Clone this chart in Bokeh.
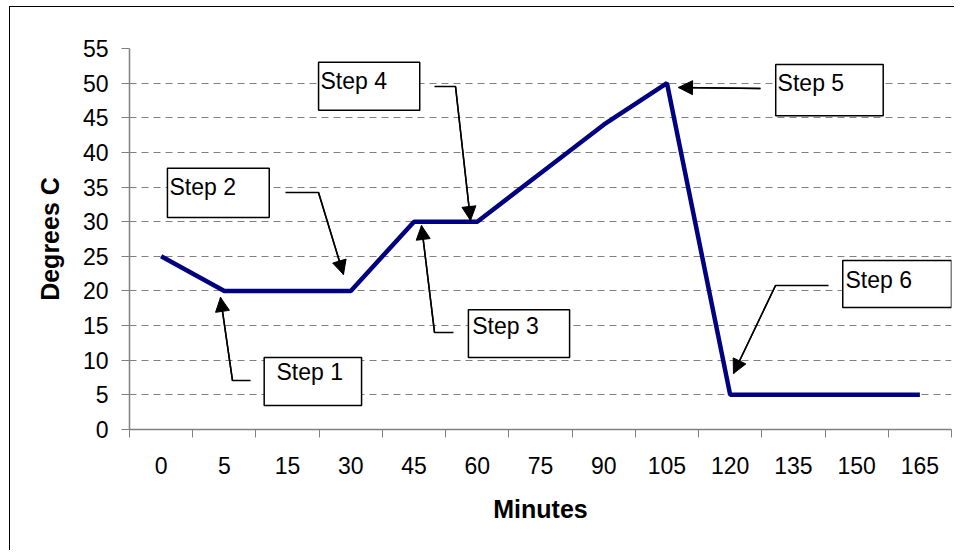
from bokeh.plotting import figure
from bokeh.models import (Range1d, FixedTicker, ColumnDataSource, Arrow, NormalHead,
                          InlineStyleSheet)
from bokeh.core.properties import value
from bokeh.embed import file_html
from bokeh.resources import INLINE

# ---- data ----
minutes = ["0", "5", "15", "30", "45", "60", "75", "90", "105", "120", "135", "150", "165"]
degrees = [25, 20, 20, 20, 30, 30, 37, 44, 50, 5, 5, 5, 5]
y_ticks = [0, 5, 10, 15, 20, 25, 30, 35, 40, 45, 50, 55]

# ---- callouts (in axis units: category slot, degrees C) ----
step_labels = ["Step 1", "Step 2", "Step 3", "Step 4", "Step 5", "Step 6"]
box_left = [2.13, 0.60, 5.36, 2.99, 10.22, 11.28]
box_right = [3.67, 2.21, 6.96, 4.59, 11.92, 13.0]
box_top = [10.39, 37.7, 17.3, 53.0, 52.7, 24.4]
box_bottom = [3.46, 30.6, 10.4, 46.1, 45.3, 17.6]
text_x = [2.325, 0.633, 5.42, 3.02, 10.25, 11.324]
text_y = [8.37, 34.94, 15.01, 50.24, 50.09, 21.65]
leader_x = [[1.914, 1.629], [2.467, 2.989], [5.124, 4.824], [4.824, 5.156], [9.979], [11.055, 10.217]]
leader_y = [[7.07, 7.07], [34.21, 34.21], [14.0, 14.0], [49.52, 49.52], [49.23], [20.79, 20.79]]
tip_x = [1.439, 3.384, 4.618, 5.393, 8.683, 9.552]
tip_y = [19.06, 22.38, 29.45, 30.17, 49.37, 8.08]

n = len(minutes)
xs = [i + 0.5 for i in range(n)]

# outer chart border (top and left edges; the rest lies outside the window)
border_css = InlineStyleSheet(css="""
:host { position: relative; }
:host::after {
  content: "";
  position: absolute;
  left: 9px; top: 6px; right: 0; bottom: 0;
  border-left: 1.5px solid black;
  border-top: 1.5px solid black;
  pointer-events: none;
}
""")

p = figure(width=954, height=550, output_backend="svg", toolbar_location=None,
           x_range=Range1d(0, n), y_range=Range1d(0, 55),
           min_border_left=129, min_border_right=3, min_border_top=48, min_border_bottom=121,
           stylesheets=[border_css])
p.outline_line_color = None
p.background_fill_color = "white"
p.border_fill_color = "white"

FONT = "Liberation Sans"

# x axis: labels at slot centres, tick marks at slot boundaries
p.xaxis.ticker = FixedTicker(ticks=xs, minor_ticks=list(range(n + 1)))
p.xaxis.major_label_overrides = {x: m for x, m in zip(xs, minutes)}
p.xaxis.major_tick_out = 0
p.xaxis.major_tick_in = 0
p.xaxis.minor_tick_out = 8
p.xaxis.minor_tick_in = 0
p.xaxis.minor_tick_line_color = "#808080"
p.xaxis.axis_line_color = "#808080"
p.xaxis.axis_line_width = 1.5
p.xaxis.major_label_standoff = 19
p.xaxis.major_label_text_font = FONT
p.xaxis.major_label_text_font_size = "23px"
p.xaxis.major_label_text_color = "black"
p.xaxis.axis_label = "Minutes"
p.xaxis.axis_label_text_font = FONT
p.xaxis.axis_label_text_font_style = "bold"
p.xaxis.axis_label_text_font_size = "25px"
p.xaxis.axis_label_text_color = "black"
p.xaxis.axis_label_standoff = 18

p.yaxis.ticker = FixedTicker(ticks=y_ticks)
p.yaxis.major_tick_out = 8
p.yaxis.major_tick_in = 0
p.yaxis.minor_tick_line_color = None
p.yaxis.major_tick_line_color = "#808080"
p.yaxis.axis_line_color = "#808080"
p.yaxis.axis_line_width = 1.5
p.yaxis.major_label_standoff = 13
p.yaxis.major_label_text_font = FONT
p.yaxis.major_label_text_font_size = "23px"
p.yaxis.major_label_text_color = "black"
p.yaxis.axis_label = "Degrees C"
p.yaxis.axis_label_text_font = FONT
p.yaxis.axis_label_text_font_style = "bold"
p.yaxis.axis_label_text_font_size = "25px"
p.yaxis.axis_label_text_color = "black"
p.yaxis.axis_label_standoff = 16

p.xgrid.visible = False
p.ygrid.grid_line_color = "#808080"
p.ygrid.grid_line_dash = "7 5"
p.ygrid.grid_line_width = 1

# main series
p.line(xs, degrees, line_color="#000080", line_width=4.5)

# callout boxes and texts
p.quad(left=box_left, right=box_right, top=box_top, bottom=box_bottom,
       fill_color="white", line_color="black", line_width=1.5)
p.text(x=text_x, y=text_y, text=step_labels, text_font=value(FONT),
       text_font_size="23px", text_baseline="middle", text_align="left", text_color="black")

# leader lines + arrows
ml_x = [lx + [tx] for lx, tx in zip(leader_x, tip_x)]
ml_y = [ly + [ty] for ly, ty in zip(leader_y, tip_y)]
p.multi_line(ml_x, ml_y, line_color="black", line_width=1.5)
arrow_src = ColumnDataSource(dict(
    x0=[lx[-1] for lx in leader_x], y0=[ly[-1] for ly in leader_y],
    x1=tip_x, y1=tip_y))
p.add_layout(Arrow(end=NormalHead(size=14, fill_color="black", line_color="black"),
                   x_start="x0", y_start="y0", x_end="x1", y_end="y1",
                   source=arrow_src, line_color="black", line_width=1.5))

open("out.html", "w").write(file_html(p, INLINE))
